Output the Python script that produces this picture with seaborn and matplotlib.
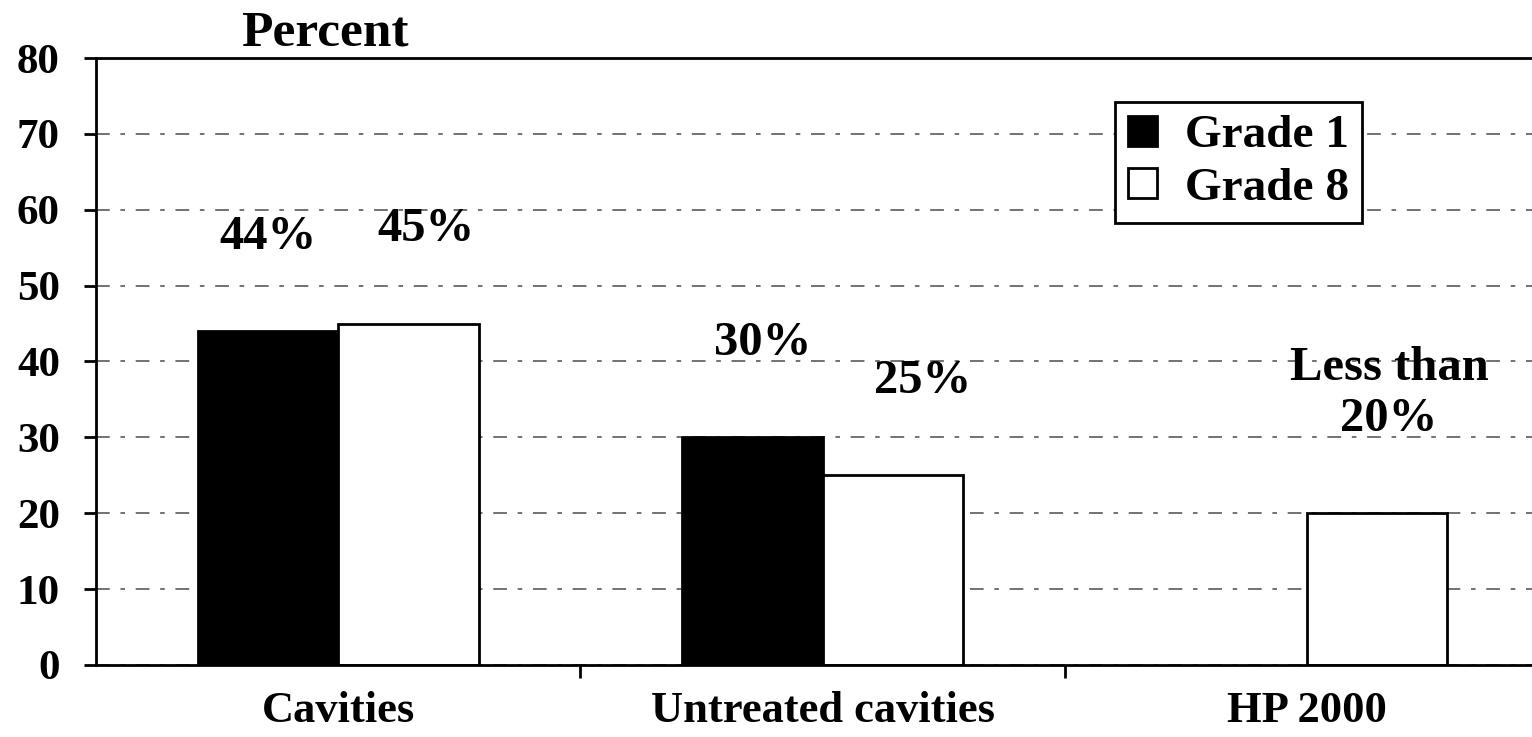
import numpy as np
import pandas as pd
import matplotlib
matplotlib.use('Agg')
import matplotlib.pyplot as plt
import seaborn as sns

# Data
categories = ['Cavities', 'Untreated cavities', 'HP 2000']
grades = ['Grade 1', 'Grade 8']
grade1_values = [44, 30, np.nan]
grade8_values = [45, 25, 20]
grade1_labels = ['44%', '30%', '']
grade8_labels = ['45%', '25%', 'Less than\n20%']
y_ticks = [0, 10, 20, 30, 40, 50, 60, 70, 80]

df = pd.DataFrame({
    'category': categories * 2,
    'grade': ['Grade 1'] * 3 + ['Grade 8'] * 3,
    'value': grade1_values + grade8_values,
})

sns.set_style('white')
plt.rcParams['font.family'] = ['Liberation Serif', 'DejaVu Serif']
plt.rcParams['font.weight'] = 'bold'
plt.rcParams['text.color'] = 'black'
plt.rcParams['xtick.color'] = 'black'
plt.rcParams['ytick.color'] = 'black'

fig = plt.figure(figsize=(15.32, 7.37), dpi=100)
ax = fig.add_axes([0.0627, 0.0977, 0.9373, 0.8236])

sns.barplot(data=df, x='category', y='value', hue='grade', order=categories,
            hue_order=grades, palette={'Grade 1': 'black', 'Grade 8': 'white'},
            width=0.58, edgecolor='black', linewidth=2, saturation=1, ax=ax)

# Bar labels
label_sets = [grade1_labels, grade8_labels]
x_shift = [[0, 10, 0], [18, 30, 12]]
for container, labels, shifts in zip(ax.containers, label_sets, x_shift):
    for bar, lab, dx in zip(container, labels, shifts):
        h = bar.get_height()
        if lab == '' or np.isnan(h):
            continue
        ax.annotate(lab, (bar.get_x() + bar.get_width() / 2, h),
                    xytext=(dx * 0.72, 52), textcoords='offset points',
                    ha='center', va='bottom', fontsize=35, fontweight='bold',
                    linespacing=1.2)

# Axes
ax.set_ylim(0, 80)
ax.set_xlim(-0.5, 2.465)
ax.set_yticks(y_ticks)
ax.set_yticklabels([str(t) for t in y_ticks], fontsize=31, fontweight='bold')
ax.tick_params(axis='y', direction='out', length=9, width=2, pad=17, left=True)
ax.set_xticks(range(len(categories)))
ax.set_xticklabels(categories, fontsize=32, fontweight='bold')
ax.tick_params(axis='x', which='major', length=0, pad=19)
ax.set_xticks([0.5, 1.5], minor=True)
ax.tick_params(axis='x', which='minor', direction='out', length=9, width=2, bottom=True)
ax.set_xlabel('')
ax.set_ylabel('')

ax.yaxis.grid(True, linestyle=(0, (9, 7, 3, 7)), color='black', linewidth=1.1, alpha=0.7)
ax.set_axisbelow(True)

for side in ['left', 'bottom', 'top']:
    ax.spines[side].set_visible(True)
    ax.spines[side].set_color('black')
    ax.spines[side].set_linewidth(2)
ax.spines['right'].set_visible(False)

ax.text(0.159, 1.003, 'Percent', transform=ax.transAxes, ha='center', va='bottom',
        fontsize=37, fontweight='bold')

# Legend
handles, labels = ax.get_legend_handles_labels()
leg = ax.legend(handles, labels, loc='upper left', bbox_to_anchor=(0.7096, 0.9275),
                frameon=True, fancybox=False, edgecolor='black', framealpha=1,
                prop={'size': 34, 'weight': 'bold'}, handlelength=0.6,
                handleheight=0.6, handletextpad=0.6, borderpad=0.28,
                labelspacing=0.22, borderaxespad=0)
leg.get_frame().set_linewidth(2)

fig.savefig('out.png', dpi=100, facecolor='white')
